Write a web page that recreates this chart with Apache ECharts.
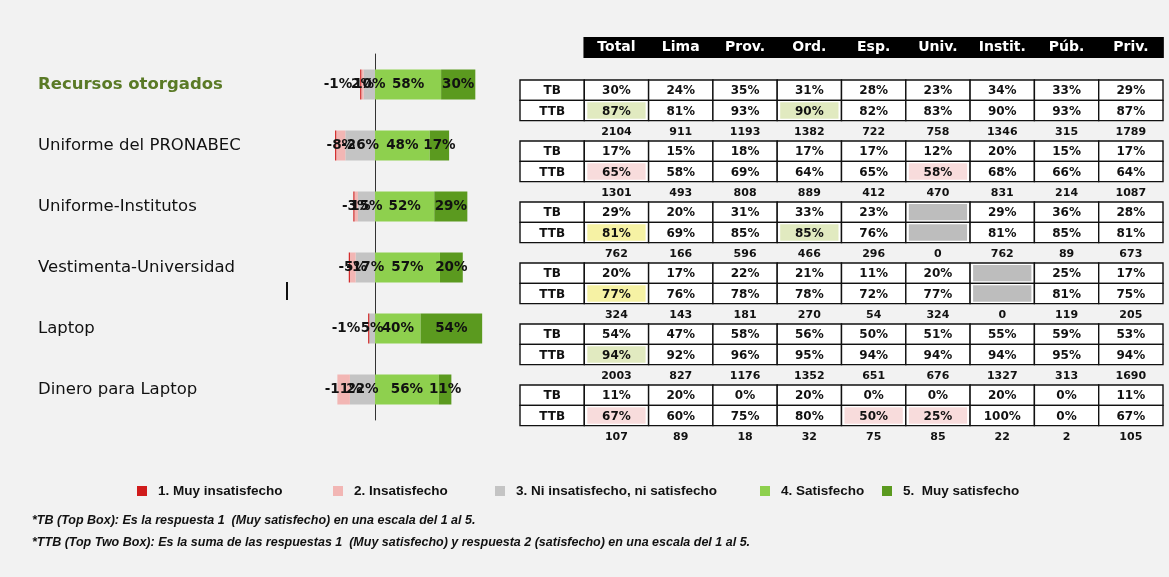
<!DOCTYPE html>
<html>
<head>
<meta charset="utf-8">
<title>Satisfacción con recursos otorgados</title>
<script src="https://cdn.jsdelivr.net/npm/echarts@6/dist/echarts.min.js"></script>
<style>
html, body { margin: 0; padding: 0; background: #f2f2f2; }
#chart { width: 1169px; height: 577px; }
</style>
</head>
<body>
<div id="chart"></div>
<script>
// items evaluated
const items = ['Recursos otorgados', 'Uniforme del PRONABEC', 'Uniforme-Institutos', 'Vestimenta-Universidad', 'Laptop', 'Dinero para Laptop']
// answer shares (%), dissatisfied side drawn left of zero
const muyInsat = [-1, -1, -1, -1, -1, 0]
const insat = [-2, -8, -3, -5, 0, -11]
const neutral = [-10, -26, -15, -17, -5, -22]
const satis = [58, 48, 52, 57, 40, 56]
const muySatis = [30, 17, 29, 20, 54, 11]
// bar labels as printed in the original
const muyInsatLbl = ['-1%', '', '', '', '-1%', '']
const insatLbl = ['2%', '-8%', '-3%', '-5%', '', '-11%']
const neutralLbl = ['10%', '-26%', '15%', '-17%', '5%', '22%']

// table: TB / TTB per item and segment, plus base size
const cols = ['Total', 'Lima', 'Prov.', 'Ord.', 'Esp.', 'Univ.', 'Instit.', 'Púb.', 'Priv.']
const tb = [
  [30, 24, 35, 31, 28, 23, 34, 33, 29],
  [17, 15, 18, 17, 17, 12, 20, 15, 17],
  [29, 20, 31, 33, 23, null, 29, 36, 28],
  [20, 17, 22, 21, 11, 20, null, 25, 17],
  [54, 47, 58, 56, 50, 51, 55, 59, 53],
  [11, 20, 0, 20, 0, 0, 20, 0, 11]
]
const ttb = [
  [87, 81, 93, 90, 82, 83, 90, 93, 87],
  [65, 58, 69, 64, 65, 58, 68, 66, 64],
  [81, 69, 85, 85, 76, null, 81, 85, 81],
  [77, 76, 78, 78, 72, 77, null, 81, 75],
  [94, 92, 96, 95, 94, 94, 94, 95, 94],
  [67, 60, 75, 80, 50, 25, 100, 0, 67]
]
const base = [
  [2104, 911, 1193, 1382, 722, 758, 1346, 315, 1789],
  [1301, 493, 808, 889, 412, 470, 831, 214, 1087],
  [762, 166, 596, 466, 296, 0, 762, 89, 673],
  [324, 143, 181, 270, 54, 324, 0, 119, 205],
  [2003, 827, 1176, 1352, 651, 676, 1327, 313, 1690],
  [107, 89, 18, 32, 75, 85, 22, 2, 105]
]
// highlighted TTB cells: [item, column, tone]
const marks = [[0, 0, 'g'], [0, 3, 'g'], [1, 0, 'r'], [1, 5, 'r'], [2, 0, 'y'], [2, 3, 'g'],
  [3, 0, 'y'], [4, 0, 'g'], [5, 0, 'r'], [5, 4, 'r'], [5, 5, 'r']]

const tones = { g: '#e1eac0', y: '#f6f2a4', r: '#f8dcdc' }
const colors = ['#d01c1c', '#f2b6b4', '#c4c4c4', '#8ed04e', '#5b9a1f']
const names = ['1. Muy insatisfecho', '2. Insatisfecho', '3. Ni insatisfecho, ni satisfecho', '4. Satisfecho', '5.  Muy satisfecho']

// build table cells
let cells = []
let rows = []
for (let b = 0; b < items.length; b++) {
  rows.push('tb' + b, 'ttb' + b, 'n' + b)
  cells.push({ x: 0, y: 3 * b, text: 'TB', box: true })
  cells.push({ x: 0, y: 3 * b + 1, text: 'TTB', box: true })
  for (let c = 0; c < cols.length; c++) {
    let v1 = tb[b][c]
    let v2 = ttb[b][c]
    let hl = marks.find(m => m[0] === b && m[1] === c)
    cells.push({ x: c + 1, y: 3 * b, text: v1 == null ? '' : v1 + '%', box: true, fill: v1 == null ? '#bdbdbd' : null })
    cells.push({ x: c + 1, y: 3 * b + 1, text: v2 == null ? '' : v2 + '%', box: true, fill: v2 == null ? '#bdbdbd' : (hl ? tones[hl[2]] : null) })
    cells.push({ x: c + 1, y: 3 * b + 2, text: String(base[b][c]), box: false, small: true })
  }
}

function drawCell (params, api) {
  let c = cells[params.dataIndex]
  let p = api.coord([api.value(0), api.value(1)])
  let s = api.size([1, 1])
  let x0 = p[0] - s[0] / 2
  let y0 = p[1] - s[1] / 2
  let kids = []
  if (c.box) {
    kids.push({ type: 'rect', shape: { x: x0, y: y0, width: s[0], height: s[1] }, style: { fill: '#fff', stroke: '#111', lineWidth: 1.4 } })
  }
  if (c.fill) {
    kids.push({ type: 'rect', shape: { x: x0 + 3, y: y0 + 2, width: s[0] - 6, height: s[1] - 4 }, style: { fill: c.fill } })
  }
  kids.push({
    type: 'text',
    style: {
      text: c.text, x: p[0], y: p[1] + 1, align: 'center', verticalAlign: 'middle',
      fontFamily: 'DejaVu Sans', fontWeight: 'bold', fontSize: c.small ? 11 : 12, fill: '#111'
    }
  })
  return { type: 'group', children: kids }
}

function barLabel (texts, pos) {
  return {
    show: true,
    position: pos,
    distance: 8,
    color: '#111',
    fontFamily: 'DejaVu Sans',
    fontWeight: 'bold',
    fontSize: 13.5,
    formatter: p => texts ? texts[p.dataIndex] : p.value + '%'
  }
}

function legendAt (i, left) {
  return {
    data: [names[i]],
    left: left,
    top: 484,
    padding: 0,
    icon: 'rect',
    itemWidth: 10,
    itemHeight: 10,
    selectedMode: false,
    textStyle: { fontFamily: 'Liberation Sans', fontWeight: 'bold', fontSize: 13.5, color: '#111', padding: [0, 0, 0, 6] }
  }
}

let chart = echarts.init(document.getElementById('chart'))
let option = {
  backgroundColor: '#f2f2f2',
  animation: false,
  color: colors,
  legend: [legendAt(0, 137), legendAt(1, 333), legendAt(2, 495), legendAt(3, 760), legendAt(4, 882)],
  grid: [
    { left: 318, top: 54, width: 171, height: 366, outerBoundsMode: 'none' },
    { left: 520, top: 80, width: 643, height: 366, outerBoundsMode: 'none' }
  ],
  xAxis: [
    { gridIndex: 0, type: 'value', min: -50, max: 100, interval: 10, show: false },
    {
      gridIndex: 1,
      type: 'category',
      position: 'top',
      data: [''].concat(cols),
      axisLine: { show: false },
      axisTick: { show: false },
      splitLine: { show: false },
      axisLabel: {
        interval: 0,
        margin: 22,
        formatter: v => v ? '{h|' + v + '}' : '',
        rich: {
          h: { backgroundColor: '#000', color: '#fff', width: 66, height: 21, align: 'center', fontFamily: 'DejaVu Sans', fontWeight: 'bold', fontSize: 14 }
        }
      }
    }
  ],
  yAxis: [
    {
      gridIndex: 0,
      type: 'category',
      inverse: true,
      data: items,
      axisLine: { show: true, lineStyle: { color: '#333', width: 1 } },
      axisTick: { show: false },
      axisLabel: {
        align: 'left',
        margin: 280,
        formatter: (v, i) => (i === 0 ? '{a|' : '{b|') + v + '}',
        rich: {
          a: { color: '#5a7a26', fontFamily: 'DejaVu Sans', fontWeight: 'bold', fontSize: 16.5 },
          b: { color: '#111', fontFamily: 'DejaVu Sans', fontSize: 16.5 }
        }
      }
    },
    { gridIndex: 1, type: 'category', inverse: true, data: rows, show: false }
  ],
  series: [
    { name: names[2], type: 'bar', stack: 'r', barWidth: 30, data: neutral, label: barLabel(neutralLbl, 'inside'), itemStyle: { color: colors[2] } },
    { name: names[1], type: 'bar', stack: 'r', barWidth: 30, data: insat, label: barLabel(insatLbl, 'inside'), itemStyle: { color: colors[1] } },
    { name: names[0], type: 'bar', stack: 'r', barWidth: 30, data: muyInsat, label: barLabel(muyInsatLbl, 'left'), itemStyle: { color: colors[0] } },
    { name: names[3], type: 'bar', stack: 'r', barWidth: 30, data: satis, label: barLabel(null, 'inside'), itemStyle: { color: colors[3] } },
    { name: names[4], type: 'bar', stack: 'r', barWidth: 30, data: muySatis, label: barLabel(null, 'inside'), itemStyle: { color: colors[4] } },
    {
      type: 'custom',
      xAxisIndex: 1,
      yAxisIndex: 1,
      renderItem: drawCell,
      data: cells.map(c => [c.x, c.y]),
      silent: true
    }
  ],
  graphic: [
    { type: 'rect', left: 286, top: 282, shape: { width: 2, height: 18 }, style: { fill: '#111' } },
    {
      type: 'text', left: 32, top: 514,
      style: { text: '*TB (Top Box): Es la respuesta 1  (Muy satisfecho) en una escala del 1 al 5.', font: 'italic bold 12.5px "Liberation Sans Narrow", "Liberation Sans"', fill: '#111' }
    },
    {
      type: 'text', left: 32, top: 536,
      style: { text: '*TTB (Top Two Box): Es la suma de las respuestas 1  (Muy satisfecho) y respuesta 2 (satisfecho) en una escala del 1 al 5.', font: 'italic bold 12.5px "Liberation Sans Narrow", "Liberation Sans"', fill: '#111' }
    }
  ]
}
chart.setOption(option)
</script>
</body>
</html>
